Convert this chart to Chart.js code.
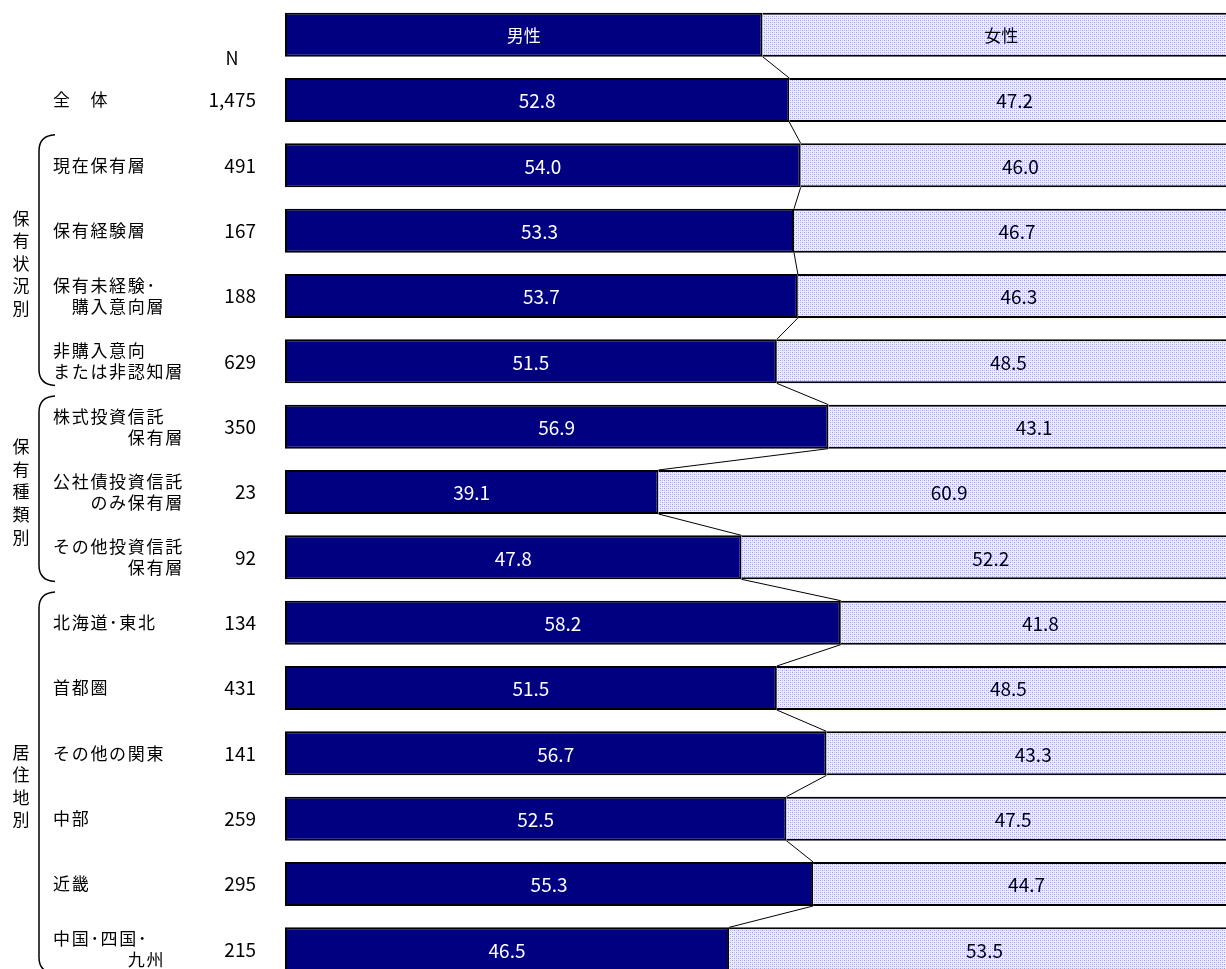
<!DOCTYPE html>
<html>
<head>
<meta charset="utf-8">
<script src="https://cdn.jsdelivr.net/npm/chart.js@4.4.0/dist/chart.umd.min.js"></script>
<style>
  html, body { margin: 0; padding: 0; overflow: hidden; background: #fff; }
  #wrap { position: relative; width: 1240px; height: 984px; }
</style>
</head>
<body>
<div id="wrap"><canvas id="chart"></canvas></div>
<script>
// Data
const categories = [
  '全　体',
  '現在保有層',
  '保有経験層',
  ['保有未経験･', '　購入意向層'],
  ['非購入意向', 'または非認知層'],
  ['株式投資信託', '　　　　保有層'],
  ['公社債投資信託', '　　のみ保有層'],
  ['その他投資信託', '　　　　保有層'],
  '北海道･東北',
  '首都圏',
  'その他の関東',
  '中部',
  '近畿',
  ['中国･四国･', '　　　　九州']
];
const nValues = [1475, 491, 167, 188, 629, 350, 23, 92, 134, 431, 141, 259, 295, 215];
const maleValues = [52.8, 54.0, 53.3, 53.7, 51.5, 56.9, 39.1, 47.8, 58.2, 51.5, 56.7, 52.5, 55.3, 46.5];
const femaleValues = [47.2, 46.0, 46.7, 46.3, 48.5, 43.1, 60.9, 52.2, 41.8, 48.5, 43.3, 47.5, 44.7, 53.5];
const seriesNames = ['男性', '女性'];
const legendSplit = [50, 50];
// group brackets on the left (indices into categories)
const groupLabels = ['保有状況別', '保有種類別', '居住地別'];
const groupStart = [1, 5, 8];
const groupEnd = [4, 7, 13];

const JP = '"Noto Sans CJK JP", "Noto Sans", sans-serif';

// dotted fill for the female segment
function makeDots() {
  const c = document.createElement('canvas');
  c.width = 4; c.height = 4;
  const g = c.getContext('2d');
  g.fillStyle = '#ececff';
  g.fillRect(0, 0, 4, 4);
  g.fillStyle = '#9a9af6';
  g.fillRect(0, 0, 1, 1);
  g.fillRect(2, 2, 1, 1);
  g.fillStyle = '#c2c2fc';
  g.fillRect(2, 0, 1, 1);
  g.fillRect(0, 2, 1, 1);
  return g.createPattern(c, 'repeat');
}

// labels inside the bars + connector lines between bars
const barLabels = {
  id: 'barLabels',
  afterDatasetsDraw(chart) {
    const ctx = chart.ctx;
    const male = chart.getDatasetMeta(0).data;
    const female = chart.getDatasetMeta(1).data;

    // connector lines
    ctx.save();
    ctx.strokeStyle = '#000';
    ctx.lineWidth = 1;
    for (let i = 0; i < male.length - 1; i++) {
      const a = male[i], b = male[i + 1];
      ctx.beginPath();
      ctx.moveTo(a.x, a.y + a.height / 2);
      ctx.lineTo(b.x, b.y - b.height / 2);
      ctx.stroke();
    }
    ctx.restore();

    ctx.save();
    ctx.textAlign = 'center';
    ctx.textBaseline = 'middle';
    [male, female].forEach((els, d) => {
      ctx.fillStyle = d === 0 ? '#fff' : '#000';
      els.forEach((el, i) => {
        const cx = (el.x + el.base) / 2;
        let txt;
        if (i === 0) {
          ctx.font = '17px ' + JP;
          txt = seriesNames[d];
        } else {
          ctx.font = '19px ' + JP;
          txt = chart.data.datasets[d].data[i].toFixed(1);
        }
        ctx.fillText(txt, cx, el.y + 1);
      });
    });
    ctx.restore();
  }
};

// category names, N, group brackets on the left
const sideText = {
  id: 'sideText',
  afterDraw(chart) {
    const ctx = chart.ctx;
    const y = chart.scales.y;
    const pitch = y.getPixelForValue(1) - y.getPixelForValue(0);
    ctx.save();
    ctx.fillStyle = '#000';
    ctx.textBaseline = 'middle';

    // N header
    ctx.font = '18px ' + JP;
    ctx.textAlign = 'center';
    ctx.fillText('N', 232, y.getPixelForValue(0) + 23);

    categories.forEach((cat, i) => {
      const cy = y.getPixelForValue(i + 1);
      const lines = Array.isArray(cat) ? cat : [cat];
      ctx.textAlign = 'left';
      ctx.font = '17px ' + JP;
      ctx.letterSpacing = '1.7px';
      lines.forEach((ln, k) => {
        const ly = cy + (k - (lines.length - 1) / 2) * 21;
        ctx.fillText(ln, 53, ly);
      });
      ctx.letterSpacing = '0px';
      ctx.textAlign = 'right';
      ctx.font = '19px ' + JP;
      ctx.fillText(nValues[i].toLocaleString('en-US'), 256, cy);
    });

    // brackets
    ctx.strokeStyle = '#000';
    ctx.lineWidth = 1.5;
    groupLabels.forEach((g, k) => {
      const top = y.getPixelForValue(groupStart[k] + 1) - pitch * 0.47;
      const bot = y.getPixelForValue(groupEnd[k] + 1) + pitch * 0.37;
      const lx = 39, rx = 55, r = 16;
      ctx.beginPath();
      ctx.moveTo(rx, top);
      ctx.quadraticCurveTo(lx, top + 1, lx, top + r);
      ctx.lineTo(lx, bot - r);
      ctx.quadraticCurveTo(lx, bot - 1, rx, bot);
      ctx.stroke();

      const mid = (y.getPixelForValue(groupStart[k] + 1) + y.getPixelForValue(groupEnd[k] + 1)) / 2;
      const chars = Array.from(g);
      ctx.font = '17px ' + JP;
      ctx.textAlign = 'center';
      chars.forEach((ch, j) => {
        ctx.fillText(ch, 21, mid + (j - (chars.length - 1) / 2) * 22.6);
      });
    });
    ctx.restore();
  }
};

const ctx = document.getElementById('chart').getContext('2d');
new Chart(ctx, {
  type: 'bar',
  data: {
    labels: ['', ...categories.map(c => Array.isArray(c) ? c.join('') : c)],
    datasets: [
      {
        label: seriesNames[0],
        data: [legendSplit[0], ...maleValues],
        backgroundColor: '#000080',
        borderColor: '#000',
        borderWidth: 2,
        borderSkipped: false
      },
      {
        label: seriesNames[1],
        data: [legendSplit[1], ...femaleValues],
        backgroundColor: makeDots(),
        borderColor: '#000',
        borderWidth: 2,
        borderSkipped: 'start'
      }
    ]
  },
  options: {
    indexAxis: 'y',
    responsive: true,
    maintainAspectRatio: false,
    animation: false,
    layout: { padding: { left: 285, top: 2, bottom: 2, right: 0 } },
    datasets: { bar: { barPercentage: 0.673, categoryPercentage: 1 } },
    scales: {
      x: { stacked: true, min: 0, max: 100, display: false },
      y: { stacked: true, display: false }
    },
    plugins: {
      legend: { display: false },
      tooltip: { enabled: false }
    }
  },
  plugins: [barLabels, sideText]
});
</script>
</body>
</html>
